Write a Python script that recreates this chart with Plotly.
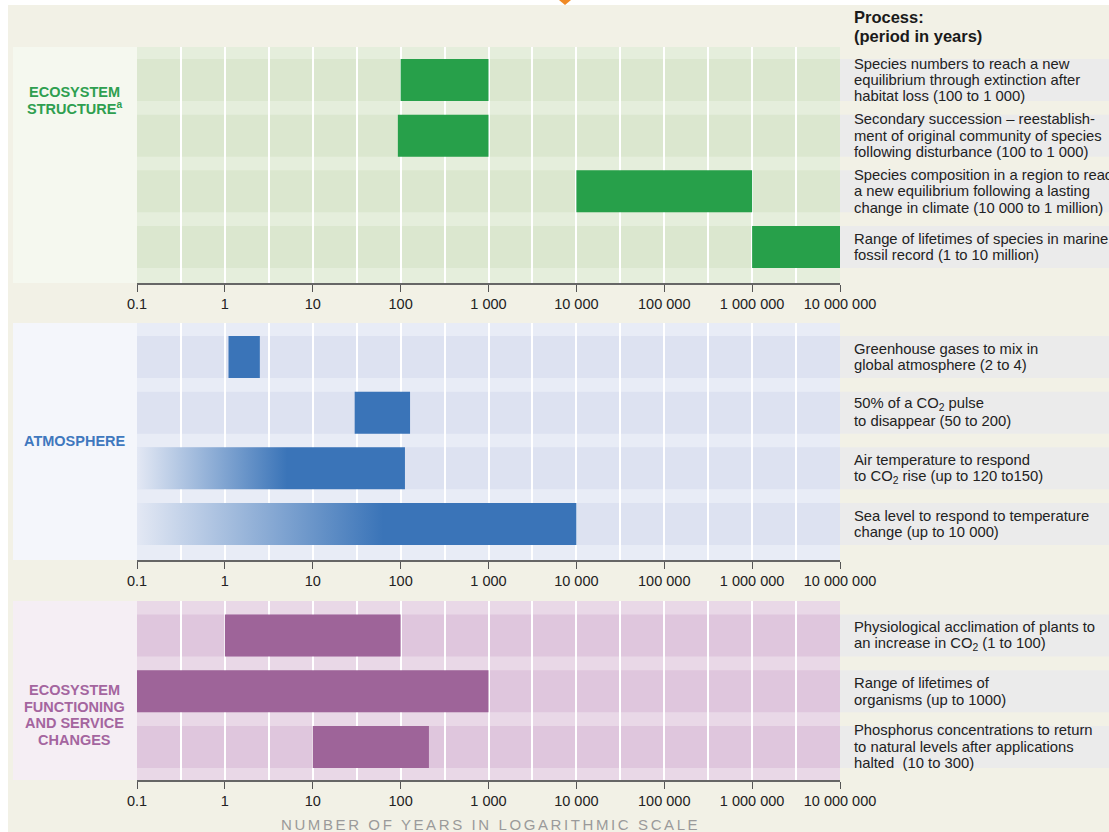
import plotly.graph_objects as go

W, H = 1109, 832

# ---------------- data ----------------
tick_vals = [0.1, 1, 10, 100, 1000, 10000, 100000, 1000000, 10000000]
tick_text = ["0.1", "1", "10", "100", "1 000", "10 000", "100 000", "1 000 000", "10 000 000"]
grid_vals = [0.316, 3.16, 31.6, 316, 3162, 31623, 316228, 3162278]

eco_lines = [
    ["Species numbers to reach a new", "equilibrium through extinction after", "habitat loss (100 to 1 000)"],
    ["Secondary succession \u2013 reestablish-", "ment of original community of species", "following disturbance (100 to 1 000)"],
    ["Species composition in a region to reach", "a new equilibrium following a lasting", "change in climate (10 000 to 1 million)"],
    ["Range of lifetimes of species in marine", "fossil record (1 to 10 million)"],
]
eco_start = [100, 93, 10000, 1000000]
eco_end = [1000, 1000, 1000000, 10000000]
eco_fade = [False, False, False, False]

atm_lines = [
    ["Greenhouse gases to mix in", "global atmosphere (2 to 4)"],
    ["50% of a CO<sub>2</sub> pulse", "to disappear (50 to 200)"],
    ["Air temperature to respond", "to CO<sub>2</sub> rise (up to 120 to150)"],
    ["Sea level to respond to temperature", "change (up to 10 000)"],
]
atm_start = [1.1, 30, 0.1, 0.1]
atm_end = [2.5, 128, 112, 10000]
atm_fade = [False, False, True, True]

fun_lines = [
    ["Physiological acclimation of plants to", "an increase in CO<sub>2</sub> (1 to 100)"],
    ["Range of lifetimes of", "organisms (up to 1000)"],
    ["Phosphorus concentrations to return", "to natural levels after applications", "halted  (10 to 300)"],
]
fun_start = [1, 0.1, 10]
fun_end = [100, 1000, 210]
fun_fade = [False, False, False]

panel_titles = [
    ["ECOSYSTEM", "STRUCTURE<sup>a</sup>"],
    ["ATMOSPHERE"],
    ["ECOSYSTEM", "FUNCTIONING", "AND SERVICE", "CHANGES"],
]
header_lines = ["Process:", "(period in years)"]
axis_title = "NUMBER OF YEARS IN LOGARITHMIC SCALE"

# ---------------- styles ----------------
BEIGE = "#F2F1E6"
TEXTBAND = "#EBEBEB"
FONT = "Liberation Sans, Arial, sans-serif"

panels = [
    dict(lines=eco_lines, start=eco_start, end=eco_end, fade=eco_fade,
         top=47, bottom=283, yrange=[3.647, -0.593], title_y=100,
         bar="#27A04A", bg="#E5EEDC", band="#DBE7CF", box="#F5F8EF", tcol="#2E9F50"),
    dict(lines=atm_lines, start=atm_start, end=atm_end, fade=atm_fade,
         top=323, bottom=560, yrange=[3.647, -0.611], title_y=441,
         bar="#3A74B8", bg="#E8ECF6", band="#DDE2F1", box="#F4F6FB", tcol="#3F78BE"),
    dict(lines=fun_lines, start=fun_start, end=fun_end, fade=fun_fade,
         top=601, bottom=780, yrange=[2.593, -0.62], title_y=715,
         bar="#9E6499", bg="#E9D8E7", band="#DFC6DD", box="#F5EEF4", tcol="#A4659F"),
]

X0, X1 = 137, 840
BAR_W = 0.754
PX_PER_ROW = 55.67
LINE_PX = 16.5


def px(v):
    return v / W


def py(v):
    return 1 - v / H


fig = go.Figure()
shapes = []
annotations = []

# white page edges (top and left) as in the scan
shapes.append(dict(type="rect", xref="paper", yref="paper", x0=0, x1=1, y0=py(5), y1=1,
                   fillcolor="white", line_width=0, layer="below"))
shapes.append(dict(type="rect", xref="paper", yref="paper", x0=0, x1=px(8), y0=0, y1=1,
                   fillcolor="white", line_width=0, layer="below"))
# small orange marker at top
shapes.append(dict(type="path", xref="paper", yref="paper",
                   path=f"M {px(559)} {py(0)} L {px(571)} {py(0)} L {px(565)} {py(5)} Z",
                   fillcolor="#F08A24", line_width=0, layer="above"))

# header
for i, t in enumerate(header_lines):
    annotations.append(dict(text=f"<b>{t}</b>", xref="paper", yref="paper", x=px(852), y=py(17 + 19 * i),
                            xanchor="left", yanchor="middle", showarrow=False,
                            font=dict(family=FONT, size=16.5, color="#1a1a1a")))

for k, p in enumerate(panels):
    sfx = "" if k == 0 else str(k + 1)
    xa, ya = "x" + sfx, "y" + sfx
    n = len(p["start"])
    rows = list(range(n))

    # label box and plot background
    shapes.append(dict(type="rect", xref="paper", yref="paper", x0=px(13), x1=px(X0),
                       y0=py(p["bottom"]), y1=py(p["top"]), fillcolor=p["box"], line_width=0, layer="below"))
    shapes.append(dict(type="rect", xref="paper", yref="paper", x0=px(X0), x1=px(X1),
                       y0=py(p["bottom"]), y1=py(p["top"]), fillcolor=p["bg"], line_width=0, layer="below"))
    for r in rows:
        shapes.append(dict(type="rect", xref="paper", yref=ya, x0=px(X0), x1=px(X1),
                           y0=r - BAR_W / 2, y1=r + BAR_W / 2, fillcolor=p["band"], line_width=0, layer="below"))
        shapes.append(dict(type="rect", xref="paper", yref=ya, x0=px(X1), x1=1,
                           y0=r - BAR_W / 2, y1=r + BAR_W / 2, fillcolor=TEXTBAND, line_width=0, layer="below"))
        lines = p["lines"][r]
        m = len(lines)
        for j, t in enumerate(lines):
            off = (j - (m - 1) / 2) * LINE_PX / PX_PER_ROW
            annotations.append(dict(text=t, xref="paper", yref=ya, x=px(852), y=r + off,
                                    xanchor="left", yanchor="middle", showarrow=False,
                                    font=dict(family=FONT, size=14.8, color="#222222")))

    # panel title
    tl = panel_titles[k]
    for j, t in enumerate(tl):
        yy = p["title_y"] + (j - (len(tl) - 1) / 2) * 16.5
        annotations.append(dict(text=f"<b>{t}</b>", xref="paper", yref="paper", x=px(75), y=py(yy),
                                xanchor="center", yanchor="middle", showarrow=False,
                                font=dict(family=FONT, size=14.5, color=p["tcol"])))

    # solid bars
    solid = [r for r in rows if not p["fade"][r]]
    fig.add_trace(go.Bar(orientation="h", y=solid,
                         base=[p["start"][r] for r in solid],
                         x=[p["end"][r] - p["start"][r] for r in solid],
                         width=BAR_W, marker=dict(color=p["bar"], line=dict(width=0)),
                         xaxis=xa, yaxis=ya, showlegend=False, hoverinfo="skip"))
    # faded bars (gradient)
    for r in rows:
        if p["fade"][r]:
            s, e = p["start"][r], p["end"][r]
            fig.add_trace(go.Scatter(x=[s, e, e, s, s],
                                     y=[r - BAR_W / 2, r - BAR_W / 2, r + BAR_W / 2, r + BAR_W / 2, r - BAR_W / 2],
                                     mode="lines", line=dict(width=0), fill="toself",
                                     fillgradient=dict(type="horizontal",
                                                       colorscale=[[0, "#E3E8F4"], [0.56, p["bar"]], [1, p["bar"]]]),
                                     xaxis=xa, yaxis=ya, showlegend=False, hoverinfo="skip"))

    fig.update_layout(**{
        "xaxis" + sfx: dict(type="log", range=[-1, 7], domain=[px(X0), px(X1)], anchor=ya,
                            tickmode="array", tickvals=tick_vals, ticktext=tick_text,
                            ticks="outside", ticklen=7, tickwidth=1, tickcolor="#555555",
                            showline=True, linecolor="#666666", linewidth=1.5,
                            showgrid=True, gridcolor="white", gridwidth=1.5,
                            minor=dict(tickmode="array", tickvals=grid_vals, showgrid=True,
                                       gridcolor="white", gridwidth=1.5, ticks=""),
                            zeroline=False, fixedrange=True, automargin=False,
                            tickfont=dict(family=FONT, size=14.5, color="#222222")),
        "yaxis" + sfx: dict(range=p["yrange"], domain=[py(p["bottom"]), py(p["top"])], anchor=xa,
                            showgrid=False, zeroline=False, showticklabels=False, showline=False,
                            ticks="", fixedrange=True, automargin=False),
    })

annotations.append(dict(text=f'<span style="letter-spacing:2.6px">{axis_title}</span>',
                        xref="paper", yref="paper", x=px(490), y=py(824),
                        xanchor="center", yanchor="middle", showarrow=False,
                        font=dict(family=FONT, size=15, color="#9A9A9A")))

fig.update_layout(width=W, height=H,
                  margin=dict(l=0, r=0, t=0, b=0, pad=0, autoexpand=False),
                  paper_bgcolor=BEIGE, plot_bgcolor="rgba(0,0,0,0)",
                  shapes=shapes, annotations=annotations, barmode="overlay",
                  showlegend=False)

fig.write_html("out.html", config={"displayModeBar": False},
               post_script="document.body.style.margin='0';document.body.style.overflow='hidden';")
